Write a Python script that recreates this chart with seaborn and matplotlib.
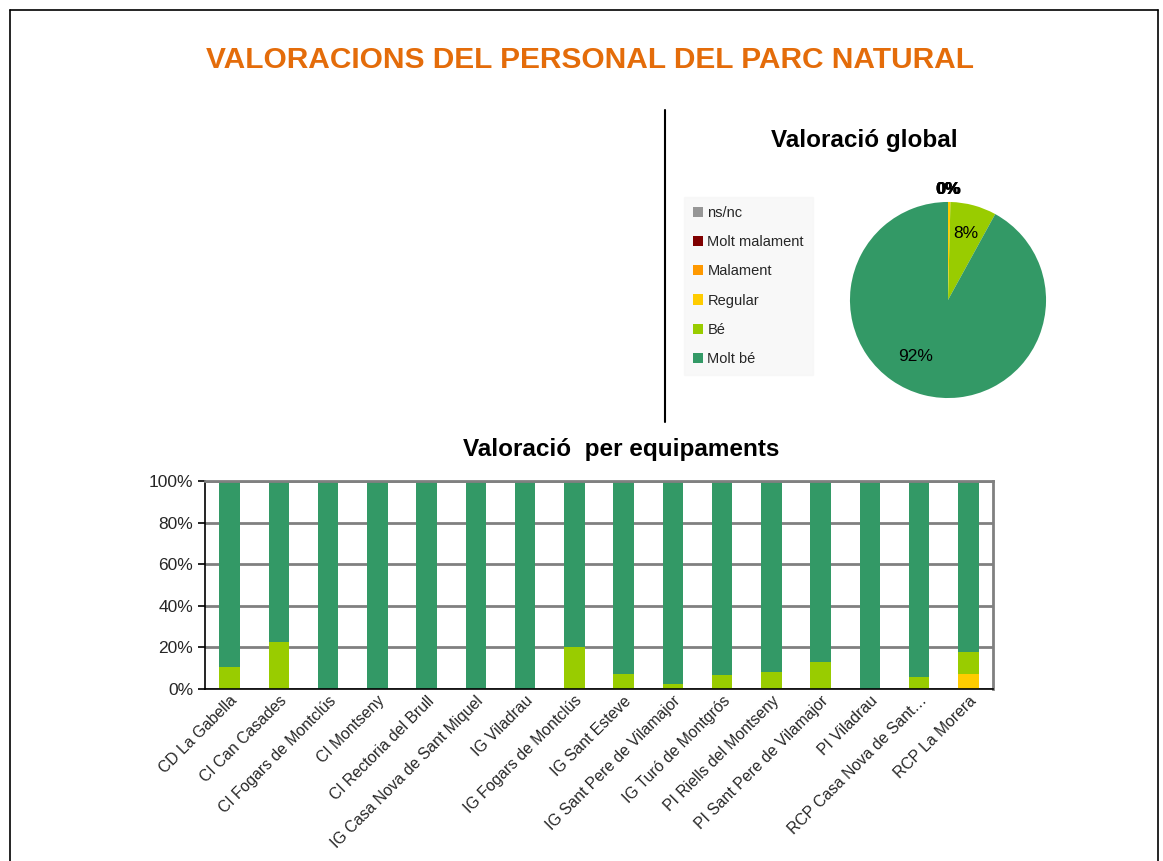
import numpy as np
import pandas as pd
import matplotlib
matplotlib.use("Agg")
import matplotlib.pyplot as plt
from matplotlib.lines import Line2D
from matplotlib.patches import Patch
import seaborn as sns

# ---- data ----
categories = ["CD La Gabella", "CI Can Casades", "CI Fogars de Montclús", "CI Montseny",
              "CI Rectoria del Brull", "IG Casa Nova de Sant Miquel", "IG Viladrau",
              "IG Fogars de Montclús", "IG Sant Esteve", "IG Sant Pere de Vilamajor",
              "IG Turó de Montgrós", "PI Riells del Montseny", "PI Sant Pere de Vilamajor",
              "PI Viladrau", "RCP Casa Nova de Sant…", "RCP La Morera"]
regular = [0, 0, 0, 0, 0, 0, 0, 0, 0, 0, 0, 0, 0, 0, 0, 7]
be = [10.5, 22.5, 0, 0, 0, 0, 0, 20, 7, 2.5, 6.5, 8, 13, 0, 6, 11]
molt_be = [100 - r - b for r, b in zip(regular, be)]

pie_labels = ["ns/nc", "Molt malament", "Malament", "Regular", "Bé", "Molt bé"]
pie_values = [0, 0, 0, 0.4, 7.6, 92.0]
pie_colors = ["#969696", "#800000", "#FF9900", "#FFCC00", "#99CC00", "#339966"]

sns.set_style("white")
plt.rcParams["font.family"] = ["Liberation Sans", "DejaVu Sans"]

W, H = 1163, 861
fig = plt.figure(figsize=(W / 100, H / 100), dpi=100)

# page borders
fig.add_artist(Line2D([10 / W, 10 / W], [0, 1 - 10 / H], color="black", lw=1.2))
fig.add_artist(Line2D([10 / W, 1158 / W], [1 - 10 / H, 1 - 10 / H], color="black", lw=1.2))
fig.add_artist(Line2D([1158 / W, 1158 / W], [0, 1 - 10 / H], color="black", lw=1.2))
fig.add_artist(Line2D([665 / W, 665 / W], [1 - 110 / H, 1 - 422 / H], color="black", lw=1.5))

fig.text(590 / W, 1 - 60 / H, "VALORACIONS DEL PERSONAL DEL PARC NATURAL",
         ha="center", va="center", fontsize=21.5, fontweight="bold", color="#E46C0A")
fig.text(864 / W, 1 - 140 / H, "Valoració global", ha="center", va="center",
         fontsize=17.5, fontweight="bold", color="black")
fig.text(621 / W, 1 - 449 / H, "Valoració  per equipaments", ha="center", va="center",
         fontsize=17.5, fontweight="bold", color="black")

# ---- pie ----
axp = fig.add_axes([848 / W, 1 - 400 / H, 200 / W, 200 / H])
wedges, texts, autotexts = axp.pie(pie_values, colors=pie_colors, startangle=90,
                                    counterclock=False, autopct="%1.0f%%",
                                    pctdistance=0.7, radius=1,
                                    wedgeprops=dict(linewidth=0),
                                    textprops=dict(fontsize=12.5, color="black"))
for w, t, v in zip(wedges, autotexts, pie_values):
    if v < 2:
        ang = np.deg2rad((w.theta1 + w.theta2) / 2)
        t.set_position((1.13 * np.cos(ang), 1.13 * np.sin(ang)))
        t.set_fontweight("bold")
    elif v > 50:
        t.set_position((-0.33, -0.58))
axp.set_xlim(-1.02, 1.02)
axp.set_ylim(-1.02, 1.02)
axp.set_aspect("equal")

handles = [Patch(facecolor=c, edgecolor="none") for c in pie_colors]
leg = fig.legend(handles, pie_labels,
                 loc="upper left", bbox_to_anchor=(684 / W, 1 - 197 / H),
                 frameon=True, fontsize=10.5, handlelength=0.7, handleheight=0.7,
                 labelspacing=1.05, handletextpad=0.3, borderpad=0.6, borderaxespad=0)
leg.get_frame().set_facecolor("#F7F7F7")
leg.get_frame().set_edgecolor("#F7F7F7")
leg.get_frame().set_boxstyle("square", pad=0)

# ---- stacked bars ----
df = pd.DataFrame({"cat": categories, "regular": regular, "be": be, "molt_be": molt_be})
df["top"] = df["regular"] + df["be"] + df["molt_be"]
df["mid"] = df["regular"] + df["be"]

axb = fig.add_axes([205 / W, 1 - 689 / H, (993 - 205) / W, (689 - 481) / H])
kw = dict(saturation=1, width=0.42, linewidth=0, edgecolor="none", ax=axb)
sns.barplot(data=df, x="cat", y="top", color="#339966", **kw)
sns.barplot(data=df, x="cat", y="mid", color="#99CC00", **kw)
sns.barplot(data=df, x="cat", y="regular", color="#FFCC00", **kw)

axb.set_ylim(0, 100)
axb.set_xlim(-0.5, len(categories) - 0.5)
axb.set_yticks(np.arange(0, 101, 20))
axb.set_yticklabels([f"{v}%" for v in range(0, 101, 20)], fontsize=12.5)
axb.yaxis.grid(True, color="#808080", lw=2)
axb.set_axisbelow(True)
axb.set_xlabel("")
axb.set_ylabel("")
axb.set_xticks(range(len(categories)))
axb.set_xticklabels(categories, rotation=45, ha="right", rotation_mode="anchor", fontsize=11.3)
axb.set_xticks(np.arange(-0.5, len(categories), 1), minor=True)
axb.tick_params(axis="x", which="major", length=0, pad=3)
axb.tick_params(axis="x", which="minor", length=5, width=1.2, color="black", direction="out")
axb.tick_params(axis="y", length=5, width=1.2, color="black", direction="out", left=True)
for s in ["top", "right"]:
    axb.spines[s].set_color("#808080")
    axb.spines[s].set_linewidth(2)
for s in ["left", "bottom"]:
    axb.spines[s].set_color("black")
    axb.spines[s].set_linewidth(1.2)

fig.savefig("out.png", dpi=100)
